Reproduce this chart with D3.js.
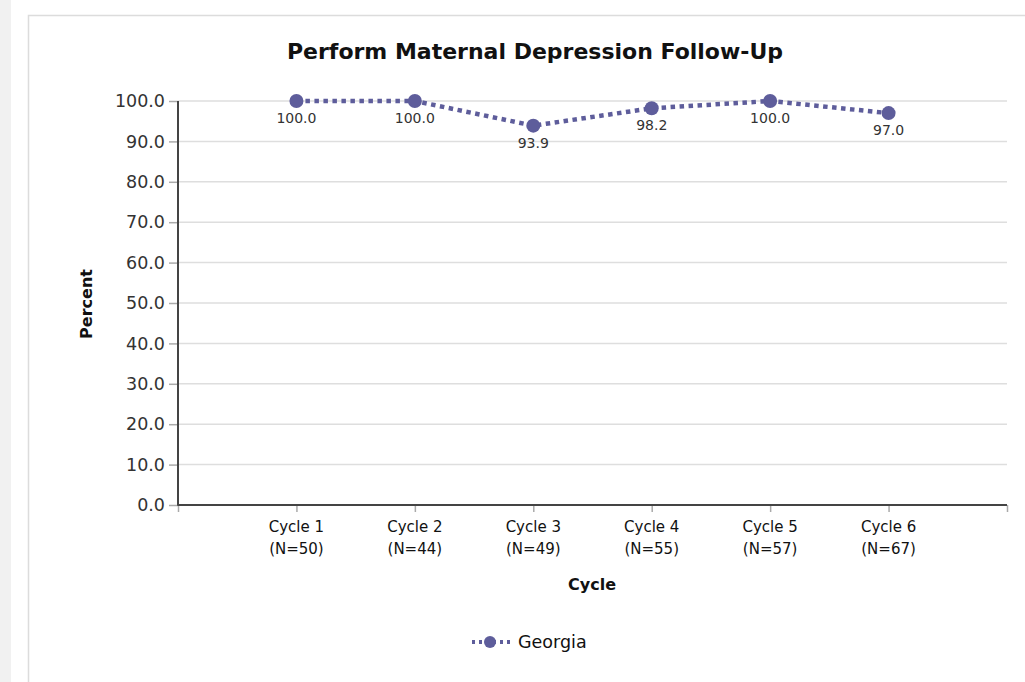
<!DOCTYPE html>
<html><head><meta charset="utf-8">
<script src="https://cdn.jsdelivr.net/npm/d3@7"></script>
<style>body{margin:0;background:#fff;}svg{display:block;font-family:"DejaVu Sans",sans-serif;}</style>
</head><body>
<svg id="c" width="1025" height="682"></svg>
<script>
const categories = ["Cycle 1","Cycle 2","Cycle 3","Cycle 4","Cycle 5","Cycle 6"];
const counts = ["(N=50)","(N=44)","(N=49)","(N=55)","(N=57)","(N=67)"];
const georgia = [100.0, 100.0, 93.9, 98.2, 100.0, 97.0];
const yTicks = [0,10,20,30,40,50,60,70,80,90,100];
const seriesName = "Georgia";
const color = "#5e5d9b";

(function(){
const F = "DejaVu Sans, sans-serif";
const svg = d3.select("#c");
// page chrome
svg.append("rect").attr("x",0).attr("y",0).attr("width",11).attr("height",682).attr("fill","#f1f1f1");
svg.append("path").attr("d","M28.5,682 V15.5 H1025").attr("fill","none").attr("stroke","#dcdcdc").attr("stroke-width",1.5);

const pl = 178, pr = 1007, pt = 101, pb = 505;
const x = d3.scaleLinear().domain([0, categories.length + 1]).range([pl, pr]);
const y = d3.scaleLinear().domain([0, 100]).range([pb, pt]);

// gridlines
svg.append("g").selectAll("line").data(yTicks.filter(d=>d>0)).join("line")
  .attr("x1", pl).attr("x2", pr).attr("y1", d=>y(d)).attr("y2", d=>y(d))
  .attr("stroke","#dedede").attr("stroke-width",1.5);

// y axis
const yAxis = svg.append("g").attr("transform",`translate(${pl},0)`)
  .call(d3.axisLeft(y).tickValues(yTicks).tickFormat(d3.format(".1f")).tickSize(9).tickPadding(4));
yAxis.select(".domain").remove();
yAxis.selectAll(".tick line").attr("stroke","#aaa").attr("stroke-width",1.5);
yAxis.selectAll(".tick text").attr("font-size",17.5).attr("fill","#333").attr("font-family",F);
svg.append("line").attr("x1",pl).attr("x2",pl).attr("y1",pt).attr("y2",pb+1).attr("stroke","#444").attr("stroke-width",2);

// x axis
const xt = d3.range(0, categories.length + 2);
const xAxis = svg.append("g").attr("transform",`translate(0,${pb})`)
  .call(d3.axisBottom(x).tickValues(xt).tickFormat("").tickSize(7));
xAxis.select(".domain").remove();
xAxis.selectAll(".tick line").attr("stroke","#aaa").attr("stroke-width",1.5);
svg.append("line").attr("x1",pl).attr("x2",pr).attr("y1",pb).attr("y2",pb).attr("stroke","#444").attr("stroke-width",2);

const lbl = svg.append("g").attr("font-size",15).attr("fill","#111").attr("text-anchor","middle").attr("font-family",F);
categories.forEach((c,i)=>{
  lbl.append("text").attr("x",x(i+1)).attr("y",532).text(c);
  lbl.append("text").attr("x",x(i+1)).attr("y",554).text(counts[i]);
});

// line
const line = d3.line().x((d,i)=>x(i+1)).y(d=>y(d));
svg.append("path").datum(georgia).attr("d",line).attr("fill","none")
  .attr("stroke",color).attr("stroke-width",4.5).attr("stroke-dasharray","4.5,4.5");
svg.append("g").selectAll("circle").data(georgia).join("circle")
  .attr("cx",(d,i)=>x(i+1)).attr("cy",d=>y(d)).attr("r",7).attr("fill",color);
svg.append("g").selectAll("text").data(georgia).join("text")
  .attr("x",(d,i)=>x(i+1)).attr("y",d=>y(d)+22).attr("text-anchor","middle").attr("font-family",F)
  .attr("font-size",14).attr("fill","#333").text(d=>d3.format(".1f")(d));

// titles
svg.append("text").attr("x",535).attr("y",59).attr("text-anchor","middle").attr("font-family",F)
  .attr("font-size",22).attr("font-weight","bold").attr("fill","#111").text("Perform Maternal Depression Follow-Up");
svg.append("text").attr("transform","translate(92,304) rotate(-90)").attr("text-anchor","middle").attr("font-family",F)
  .attr("font-size",16).attr("font-weight","bold").attr("fill","#111").text("Percent");
svg.append("text").attr("x",592).attr("y",590).attr("text-anchor","middle").attr("font-family",F)
  .attr("font-size",16).attr("font-weight","bold").attr("fill","#111").text("Cycle");

// legend
const lg = svg.append("g");
lg.append("line").attr("x1",472).attr("x2",510).attr("y1",642).attr("y2",642)
  .attr("stroke",color).attr("stroke-width",4).attr("stroke-dasharray","3,4");
lg.append("circle").attr("cx",490).attr("cy",642).attr("r",6).attr("fill",color);
lg.append("text").attr("x",518).attr("y",648).attr("font-size",17.5).attr("fill","#111").attr("font-family",F).text(seriesName);
})();
</script>
</body></html>
